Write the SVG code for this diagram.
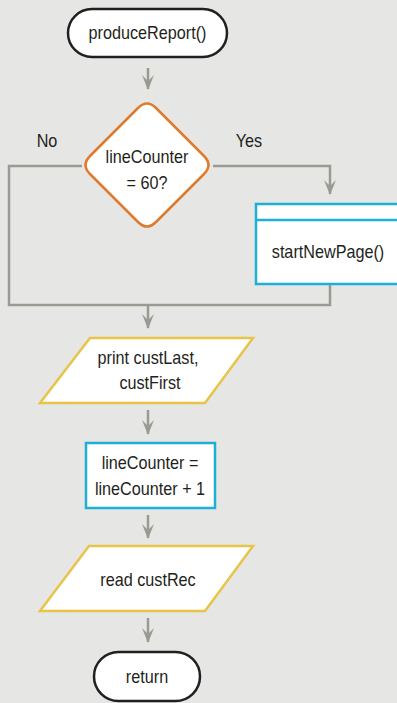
<svg xmlns="http://www.w3.org/2000/svg" width="397" height="703" viewBox="0 0 397 703">
<defs>
<marker id="ah" markerWidth="15" markerHeight="12" refX="14" refY="6" orient="auto" markerUnits="userSpaceOnUse" viewBox="0 0 15 12">
<path d="M0,0 L6,6 L0,12 L15,6 Z" fill="#9a9a92"/>
</marker>
</defs>
<style>
text{font-family:"Liberation Sans",Arial,sans-serif;font-size:18px;fill:#231f20;text-anchor:middle}
.c{fill:none;stroke:#9a9a92;stroke-width:2.5}
.term{fill:#fff;stroke:#231f20;stroke-width:2.5}
.dec{fill:#fff;stroke:#e07a2e;stroke-width:2.5}
.io{fill:#fff;stroke:#e8c44a;stroke-width:2.5}
.proc{fill:#fff;stroke:#1cb0d6;stroke-width:2.5}
</style>
<rect width="397" height="703" fill="#e6e6e4"/>
<g id="connectors">
<line class="c" x1="148" y1="68" x2="148" y2="89" marker-end="url(#ah)"/>
<polyline class="c" points="82,166 9,166 9,305 330,305 330,284"/>
<polyline class="c" points="213,166 330,166 330,194" marker-end="url(#ah)"/>
<line class="c" x1="148" y1="305" x2="148" y2="328" marker-end="url(#ah)"/>
<line class="c" x1="148" y1="410" x2="148" y2="434" marker-end="url(#ah)"/>
<line class="c" x1="148" y1="515" x2="148" y2="538" marker-end="url(#ah)"/>
<line class="c" x1="148" y1="618" x2="148" y2="642" marker-end="url(#ah)"/>
</g>
<g id="start">
<rect class="term" x="68" y="9" width="159" height="48" rx="24"/>
<text transform="translate(147.5,39) scale(0.9,1)">produceReport()</text>
</g>
<g id="decision">
<path class="dec" d="M138,108 Q147,99 156,108 L204,156 Q213,165 204,174 L156,222 Q147,231 138,222 L90,174 Q81,165 90,156 Z"/>
<text transform="translate(147,163) scale(0.9,1)">lineCounter</text>
<text transform="translate(147,189) scale(0.9,1)">= 60?</text>
</g>
<text transform="translate(47,147) scale(0.9,1)">No</text>
<text transform="translate(249,147) scale(0.9,1)">Yes</text>
<g id="startNewPage">
<rect class="proc" x="256" y="204" width="145" height="80"/>
<line class="proc" x1="256" y1="220" x2="401" y2="220"/>
<text transform="translate(328,258) scale(0.9,1)">startNewPage()</text>
</g>
<g id="print">
<polygon class="io" points="90,338 253,338 205,403 40,403"/>
<text transform="translate(148,364) scale(0.9,1)">print custLast,</text>
<text transform="translate(150,389) scale(0.9,1)">custFirst</text>
</g>
<g id="increment">
<rect class="proc" x="86" y="443" width="129" height="65"/>
<text transform="translate(150,469) scale(0.9,1)">lineCounter =</text>
<text transform="translate(150,495) scale(0.9,1)">lineCounter + 1</text>
</g>
<g id="read">
<polygon class="io" points="89,546 253,546 205,611 40,611"/>
<text transform="translate(148,586) scale(0.9,1)">read custRec</text>
</g>
<g id="return">
<rect class="term" x="94" y="652" width="106" height="49" rx="24.5"/>
<text transform="translate(147,683) scale(0.9,1)">return</text>
</g>
</svg>
